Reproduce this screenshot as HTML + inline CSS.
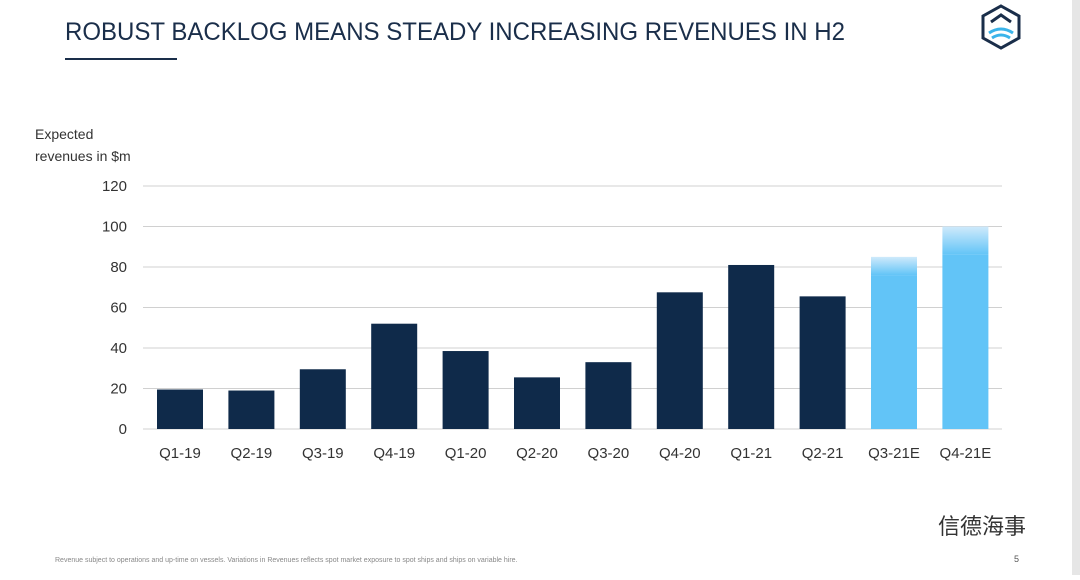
<!DOCTYPE html>
<html><head><meta charset="utf-8"><style>
body{margin:0;width:1080px;height:575px;background:#fff;overflow:hidden;font-family:"Liberation Sans","Noto Sans CJK SC",sans-serif}
</style></head><body>
<svg width="1080" height="575">
<defs>
<linearGradient id="g3" x1="0" y1="0" x2="0" y2="1"><stop offset="0" stop-color="#cfeafb"/><stop offset="1" stop-color="#62c4f7"/></linearGradient>
</defs>
<rect x="1072" y="0" width="8" height="575" fill="#e6e6e6"/>
<text x="65" y="40" font-size="25" fill="#1a2e4a" textLength="780" lengthAdjust="spacingAndGlyphs">ROBUST BACKLOG MEANS STEADY INCREASING REVENUES IN H2</text>
<rect x="65" y="58" width="112" height="2" fill="#1a2e4a"/>
<g>
<path d="M1001 6 L1019 16 L1019 38 L1001 48 L983 38 L983 16 Z" fill="none" stroke="#1a2e4a" stroke-width="3"/>
<path d="M991 22 L1001 15 L1011 22" fill="none" stroke="#1a2e4a" stroke-width="3"/>
<path d="M989 33 Q1001 25 1013 33 M992 38 Q1001 32 1010 38" fill="none" stroke="#3bb4ea" stroke-width="3"/>
</g>
<text x="35" y="139" font-size="14" fill="#333">Expected</text>
<text x="35" y="161" font-size="14" fill="#333">revenues in $m</text>
<g id="grid"></g><g id="bars"></g><g id="labels"></g>
<text x="55" y="562" font-size="7" fill="#888">Revenue subject to operations and up-time on vessels. Variations in Revenues reflects spot market exposure to spot ships and ships on variable hire.</text>
<text x="1014" y="562" font-size="9" fill="#555">5</text>
<text x="938" y="534" font-size="22" fill="#333">信德海事</text>
</svg>
<script>
const categories=["Q1-19","Q2-19","Q3-19","Q4-19","Q1-20","Q2-20","Q3-20","Q4-20","Q1-21","Q2-21","Q3-21E","Q4-21E"];
const values=[19.5,19,29.5,52,38.5,25.5,33,67.5,81,65.5,85,100];
const solidPart=[19.5,19,29.5,52,38.5,25.5,33,67.5,81,65.5,76,86];
const estimate=[false,false,false,false,false,false,false,false,false,false,true,true];
const ticks=[0,20,40,60,80,100,120];
const NS="http://www.w3.org/2000/svg";
const y=v=>429-v*(243/120);
const x=i=>180+i*71.4;
function mk(t,a,p){const e=document.createElementNS(NS,t);for(const k in a)e.setAttribute(k,a[k]);p.appendChild(e);return e;}
const G=document.getElementById('grid'),B=document.getElementById('bars'),L=document.getElementById('labels');
ticks.forEach(t=>{
 const l=mk('line',{x1:143,x2:1002,y1:y(t),y2:y(t),stroke:'#d0d0d0','stroke-width':1},G);
 
 
 const tx=mk('text',{x:127,y:y(t)+5,'font-size':15,fill:'#333','text-anchor':'end'},G);
 tx.textContent=t;
 
 
});
categories.forEach((c,i)=>{
 const w=46;
 if(estimate[i]){
  const top=mk('rect',{x:x(i)-w/2,y:y(values[i]),width:w,height:y(solidPart[i])-y(values[i]),fill:'url(#g3)'},B);
  
  
  const r=mk('rect',{x:x(i)-w/2,y:y(solidPart[i]),width:w,height:429-y(solidPart[i]),fill:'#62c4f7'},B);
  
  
 }else{
  const r=mk('rect',{x:x(i)-w/2,y:y(values[i]),width:w,height:429-y(values[i]),fill:'#0f2a4a'},B);
  
  
 }
 const t=mk('text',{x:x(i),y:458,'font-size':15,fill:'#333','text-anchor':'middle'},L);
 t.textContent=c;
 
 
});
</script>
</body></html>
